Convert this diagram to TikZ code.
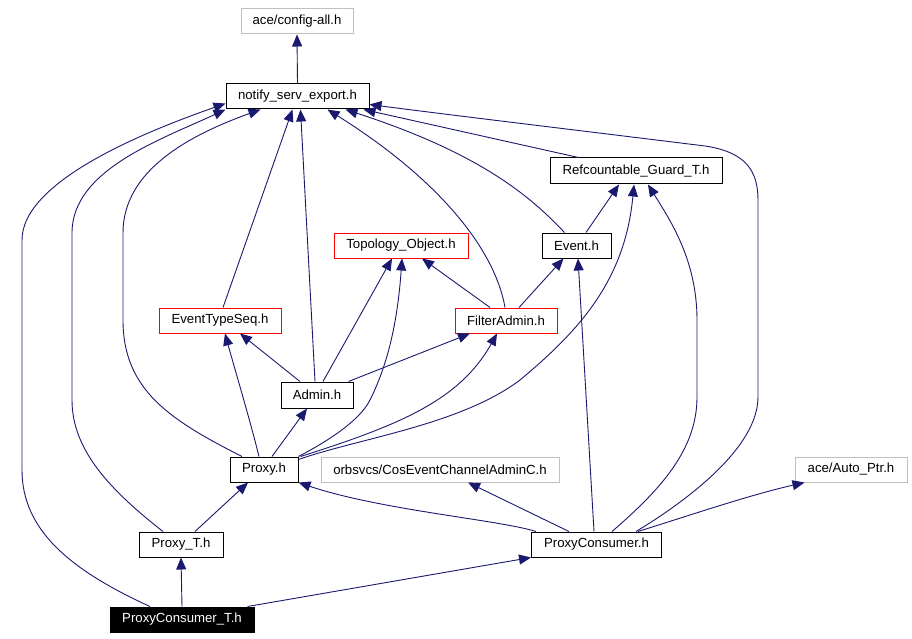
\documentclass[tikz,border=0pt]{standalone}
\usepackage{fontspec}
\setmainfont{Liberation Sans}
\usetikzlibrary{arrows.meta,calc}
\definecolor{edgeblue}{HTML}{191970}
\definecolor{boxgray}{HTML}{BFBFBF}
\definecolor{boxred}{HTML}{FF0000}
\begin{document}
\begin{tikzpicture}[x=1pt,y=-1pt,
  box/.style={draw=black, line width=1pt, inner sep=0pt, minimum height=25pt, anchor=center,
    font=\fontsize{13.2}{15}\selectfont, text=black},
  graybox/.style={box, draw=boxgray},
  redbox/.style={box, draw=boxred},
  rootbox/.style={box, fill=black, text=white},
  edge/.style={draw=edgeblue, line width=0.9pt, -{Triangle[length=12pt,width=10pt]}}]
\fill[white] (0,0) rectangle (912,639);
\useasboundingbox (0,0) rectangle (912,639);

\node[graybox, minimum width=112pt] (config) at (297,21.5) {ace/config-all.h};
\node[box, minimum width=143pt] (notify) at (297.5,96.5) {notify\_serv\_export.h};
\node[box, minimum width=172pt, minimum height=26pt] (ref) at (636,171) {Refcountable\_Guard\_T.h};
\node[box, minimum width=69pt] (event) at (576.5,245.5) {Event.h};
\node[redbox, minimum width=134pt] (topo) at (401,245.5) {Topology\_Object.h};
\node[redbox, minimum width=102pt] (filter) at (506,320.5) {FilterAdmin.h};
\node[redbox, minimum width=122pt] (ets) at (220,320.5) {EventTypeSeq.h};
\node[box, minimum width=72pt, minimum height=26pt] (admin) at (317,395) {Admin.h};
\node[box, minimum width=68pt] (proxy) at (264,469.5) {Proxy.h};
\node[graybox, minimum width=238pt] (orbs) at (440,469.5) {orbsvcs/CosEventChannelAdminC.h};
\node[graybox, minimum width=112pt] (autoptr) at (851,469.5) {ace/Auto\_Ptr.h};
\node[box, minimum width=84pt] (proxyt) at (181,544.5) {Proxy\_T.h};
\node[box, minimum width=130pt] (pc) at (596.5,544.5) {ProxyConsumer.h};
\node[rootbox, minimum width=144pt] (pct) at (182,619.5) {ProxyConsumer\_T.h};

% into config
\draw[edge] (notify.north) -- (config.south);
% into notify
\draw[edge] ($(pct.north)+(-32,0)$) .. controls (70,570) and (22,530) .. (22,470) -- (22,240)
  .. controls (22,180) and (150,130) .. ($(notify.south west)+(0,-6)$);
\draw[edge] ($(proxyt.north)+(-18,0)$) .. controls (110,490) and (72,450) .. (72,400) -- (72,233)
  .. controls (72,170) and (160,140) .. (notify.south west);
\draw[edge] ($(proxy.north)+(-22,0)$) .. controls (170,420) and (123,390) .. (123,320) -- (123,233)
  .. controls (123,170) and (190,135) .. ($(notify.south west)+(35,0)$);
\draw[edge] ($(ets.north)+(3,0)$) -- ($(notify.south)+(-5,0)$);
\draw[edge] ($(admin.north)+(-2,0)$) -- ($(notify.south)+(3,0)$);
\draw[edge] ($(filter.north)+(-1,0)$) .. controls (495,250) and (440,180) .. ($(notify.south)+(30,0)$);
\draw[edge] ($(event.north)+(-12,0)$) .. controls (525,190) and (470,150) .. ($(notify.south)+(48,0)$);
\draw[edge] ($(ref.north west)+(29,0)$) -- ($(notify.south east)+(-6,0)$);
\draw[edge] ($(pc.north)+(39.5,0)$) .. controls (680,505) and (758,450) .. (758,397) -- (758,200)
  .. controls (758,170) and (745,152) .. (705,146)
  .. controls (600,133) and (450,115) .. ($(notify.east)+(0,8)$);
% into ref
\draw[edge] ($(event.north)+(9.5,0)$) -- ($(ref.south)+(-17,0)$);
\draw[edge] ($(proxy.north east)+(0,3)$) .. controls (360,438) and (460,425) .. (520,380)
  .. controls (580,330) and (625,280) .. ($(ref.south)+(-2,0)$);
\draw[edge] ($(pc.north)+(15.5,0)$) .. controls (660,490) and (697,450) .. (697,397) -- (697,320)
  .. controls (697,260) and (670,220) .. ($(ref.south)+(12,0)$);
% into topology
\draw[edge] ($(admin.north)+(6,0)$) -- ($(topo.south)+(-9,0)$);
\draw[edge] (proxy.north east) .. controls (330,440) and (360,420) .. (370,400)
  .. controls (385,370) and (397,330) .. ($(topo.south)+(1,0)$);
\draw[edge] ($(filter.north)+(-16,0)$) -- ($(topo.south)+(21,0)$);
% into event
\draw[edge] ($(filter.north)+(13,0)$) -- ($(event.south)+(-13,0)$);
\draw[edge] ($(pc.north)+(-2.5,0)$) -- ($(event.south)+(1.5,0)$);
% into filter
\draw[edge] ($(admin.north east)+(-5,0)$) -- ($(filter.south)+(-36,0)$);
\draw[edge] ($(proxy.north east)+(2,0)$) .. controls (400,425) and (460,400) .. ($(filter.south)+(-9,0)$);
% into ets
\draw[edge] ($(proxy.north)+(-5,0)$) .. controls (250,420) and (235,370) .. ($(ets.south)+(5,0)$);
\draw[edge] ($(admin.north)+(-17,0)$) -- ($(ets.south)+(20,0)$);
% into admin
\draw[edge] ($(proxy.north)+(8,0)$) -- ($(admin.south)+(-10,0)$);
% into proxy
\draw[edge] ($(proxyt.north)+(14,0)$) -- ($(proxy.south)+(-16,0)$);
\draw[edge] ($(pc.north west)+(5,0)$) .. controls (500,520) and (380,510) .. (proxy.south east);
% into orbs and autoptr
\draw[edge] ($(pc.north)+(-27.5,0)$) -- ($(orbs.south)+(28,0)$);
\draw[edge] ($(pc.north)+(41.5,0)$) .. controls (700,512) and (750,495) .. ($(autoptr.south west)+(10,0)$);
% from root
\draw[edge] (pct.north) -- (proxyt.south);
\draw[edge] ($(pct.north east)+(-7,0)$) -- (pc.south west);
\end{tikzpicture}
\end{document}
